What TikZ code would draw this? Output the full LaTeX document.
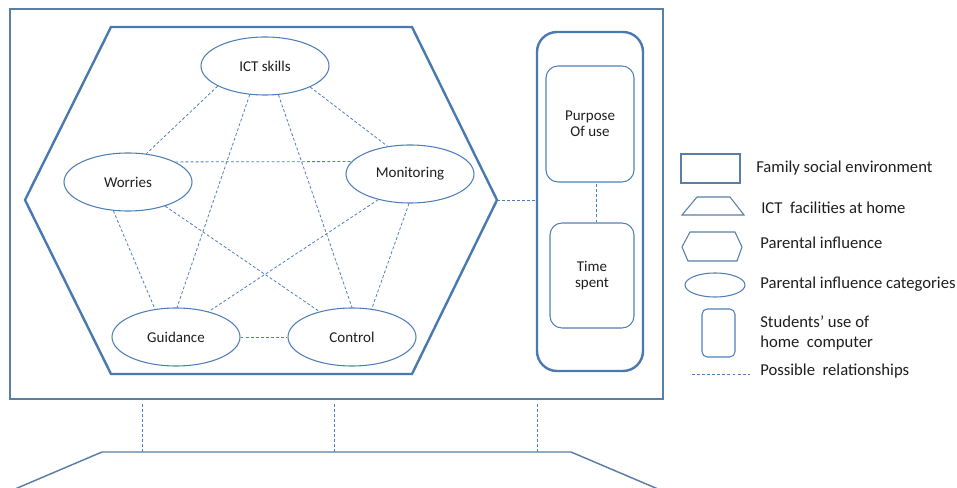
\documentclass[tikz,border=0pt]{standalone}
\usepackage{fontspec}
\setmainfont{Carlito}
\usetikzlibrary{shapes.geometric,calc}
\definecolor{edgeblue}{HTML}{4F7FB8}
\definecolor{framecol}{HTML}{5B7EA6}
\definecolor{hexcol}{HTML}{4A78B0}
\definecolor{txt}{HTML}{1E1E1E}
\begin{document}
\begin{tikzpicture}[x=0.75pt,y=-0.75pt,
  font=\fontsize{11.25}{12}\selectfont, text=txt,
  category/.style={ellipse, draw=edgeblue, line width=0.8pt, inner sep=0pt,
    minimum width=96pt, minimum height=43.5pt},
  usebox/.style={rectangle, rounded corners=9pt, draw=edgeblue, line width=0.8pt,
    inner sep=0pt, align=center},
  rel/.style={draw=edgeblue, line width=0.6pt, dash pattern=on 2.2pt off 1.6pt},
  legtext/.style={anchor=west, inner sep=0pt, align=left,
    font=\fontsize{12.5}{15}\selectfont}]

\useasboundingbox (0,0) rectangle (957,488);

% family social environment
\node[rectangle, draw=framecol, line width=0.9pt, minimum width=489.75pt,
  minimum height=292.5pt, inner sep=0pt] (family) at (336.5,204) {};

% parental influence hexagon
\draw[hexcol, line width=1.8pt, line join=miter]
  (111,27) -- (412,27) -- (497,200) -- (412,374) -- (111,374) -- (25,200) -- cycle;
\coordinate (hexR) at (497,200);

% parental influence categories
\node[category] (ict) at (265,66) {ICT skills};
\node[category] (wor) at (128,182) {Worries};
\node[category] (mon) at (410,174) {Monitoring};
\node[category] (gui) at (176,337) {Guidance};
\node[category] (con) at (352,337) {Control};

\draw[rel] (ict.203) -- (wor.57);
\draw[rel] (ict.335) -- (mon.129);
\draw[rel] (ict.242) -- (gui.88);
\draw[rel] (ict.295) -- (con.90);
\draw[rel] (wor.23) -- (mon.168);
\draw[rel] (wor.243) -- (gui.127);
\draw[rel] (wor.327) -- (con.142);
\draw[rel] (mon.219) -- (gui.38);
\draw[rel] (mon.268) -- (con.55);
\draw[rel] (gui) -- (con);

% students' use of home computer
\node[rectangle, rounded corners=15pt, draw=hexcol, line width=1.8pt,
  minimum width=79.5pt, minimum height=254.25pt, inner sep=0pt] (stud) at (590,201.5) {};
\node[usebox, minimum width=66pt, minimum height=87pt] (purp) at (590,124)
  {Purpose\\Of use};
\node[usebox, minimum width=63pt, minimum height=78.75pt] (time) at (592,275.5)
  {Time\\spent};
\draw[rel] (hexR) -- (hexR -| stud.west);
\coordinate (link) at ($(time.north)+(3pt,0)$);
\draw[rel] (link) -- (link |- purp.south);

% ICT facilities at home
\coordinate (tl) at (102,452);
\coordinate (tr) at (571,452);
\draw[framecol, line width=1.1pt] (8,492) -- (tl) -- (tr) -- (665,492);

\coordinate (v1) at (142,0);
\coordinate (v2) at (334,0);
\coordinate (v3) at (537,0);
\foreach \v in {v1,v2,v3}
  \draw[rel] (\v |- family.south) ++(0,4) -- (\v |- tl);

% legend
\node[rectangle, draw=framecol, line width=0.8pt, minimum width=44.25pt,
  minimum height=21.75pt, inner sep=0pt] (lrect) at (710.5,168.5) {};
\node[legtext] at (756,168) {Family social environment};

\draw[framecol, line width=0.8pt] (682,215) -- (697,197) -- (730,197) -- (744,215) -- cycle;
\node[legtext] at (761,208) {ICT\ \ facilities at home};

\draw[framecol, line width=0.8pt]
  (682,247) -- (690,232) -- (735,232) -- (742,247) -- (737,261) -- (688,261) -- cycle;
\node[legtext] at (760,243) {Parental influence};

\node[ellipse, draw=edgeblue, line width=0.8pt, minimum width=45pt,
  minimum height=18pt, inner sep=0pt] (lell) at (715,285) {};
\node[legtext] at (760,284) {Parental influence categories};

\node[rectangle, rounded corners=4pt, draw=edgeblue, line width=0.8pt,
  minimum width=24.75pt, minimum height=36pt, inner sep=0pt] (lround) at (718.5,333) {};
\node[legtext] at (760,333)
  {Students’ use of\\home\ \ computer};

\coordinate (la) at (692,374);
\coordinate (lb) at (750,374);
\draw[rel] (la) -- (lb);
\node[legtext] at (760,371) {Possible\ \ relationships};
\end{tikzpicture}
\end{document}
